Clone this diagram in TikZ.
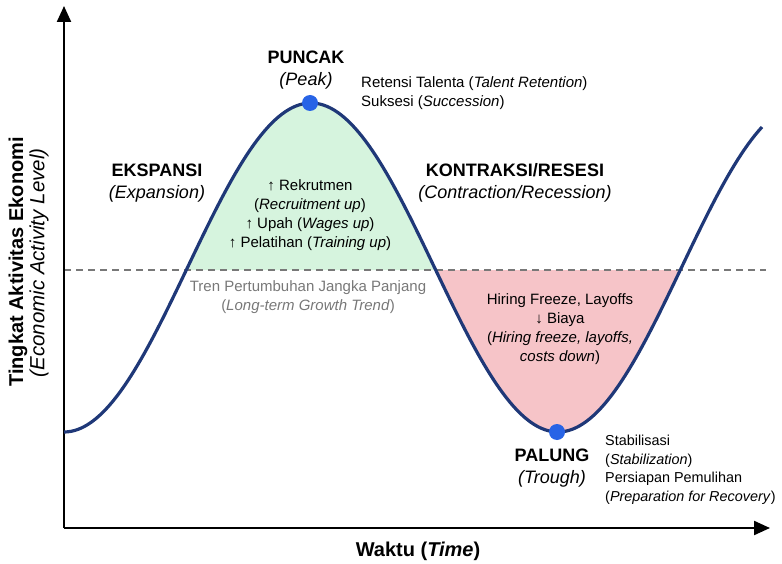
\documentclass[tikz,border=0pt]{standalone}
\usepackage{fontspec}
\setmainfont{Liberation Sans}
\usepackage{xcolor}
\usetikzlibrary{arrows.meta}

\definecolor{navy}{RGB}{31,56,120}
\definecolor{dotblue}{RGB}{40,100,230}
\definecolor{upgreen}{RGB}{214,244,222}
\definecolor{downred}{RGB}{246,196,200}
\definecolor{trendgray}{RGB}{120,120,120}

\begin{document}
\begin{tikzpicture}[x=1pt,y=-1pt,
  axis line/.style={line width=2.2pt,-{Triangle[length=16pt,width=14pt]}},
  cycle line/.style={navy,line width=3.2pt,line join=round},
  turn dot/.style={circle,fill=dotblue,inner sep=0pt,minimum size=16pt},
  phase label/.style={font=\fontsize{18}{22}\selectfont,align=center,inner sep=0pt},
  note label/.style={font=\fontsize{15}{19}\selectfont,align=center,inner sep=0pt},
  axis label/.style={font=\fontsize{20}{23}\selectfont,inner sep=0pt,rotate=90}]
  \useasboundingbox (0,0) rectangle (782,564);

  % shaded phases
  \fill[upgreen] plot[domain=186.3:435.7,samples=80] (\x,{267.5+164.5*cos((\x-64)*0.728745)}) -- cycle;
  \fill[downred] plot[domain=435.7:680.3,samples=80] (\x,{267.5+164.5*cos((\x-64)*0.728745)}) -- cycle;

  % axes and trend
  \coordinate (o) at (64,528);
  \coordinate (ytip) at (64,6);
  \coordinate (xtip) at (770,528);
  \coordinate (trendL) at (64,270);
  \coordinate (trendR) at (766,270);
  \draw[trendgray,line width=1.3pt,dash pattern=on 7pt off 5pt] (trendL) -- (trendR);
  \draw[axis line] (o) -- (ytip);
  \draw[axis line] (o) -- (xtip);

  % business cycle
  \draw[cycle line] plot[domain=64:762,samples=200] (\x,{267.5+164.5*cos((\x-64)*0.728745)});
  \node[turn dot] (peak) at (310,103) {};
  \node[turn dot] (trough) at (557,432) {};

  \node[axis label] (ylab) at (18,262) {\bfseries Tingkat Aktivitas Ekonomi};
  \node[axis label,font=\fontsize{20.5}{23}\selectfont] (ylab2) at (39,263) {\itshape (Economic Activity Level)};
  \node[inner sep=0pt,font=\fontsize{20}{24}\selectfont\bfseries] (xlab) at (418,551) {Waktu (\textit{Time})};

  \node[phase label] (puncak) at (306,70) {\bfseries PUNCAK\\\itshape (Peak)};
  \node[phase label] (ekspansi) at (157,183) {\bfseries EKSPANSI\\\itshape (Expansion)};
  \node[phase label] (kontraksi) at (515,183) {\bfseries KONTRAKSI/RESESI\\\itshape (Contraction/Recession)};
  \node[phase label] (palung) at (552,468) {\bfseries PALUNG\\\itshape (Trough)};

  \node[note label,align=left,anchor=west] (peaknote) at (361,93.5)
    {Retensi Talenta (\textit{Talent Retention})\\Suksesi (\textit{Succession})};
  \node[note label] (upnote) at (310,215)
    {↑ Rekrutmen\\(\textit{Recruitment up})\\↑ Upah (\textit{Wages up})\\↑ Pelatihan (\textit{Training up})};
  \node[note label,text=trendgray] (trend) at (308,297)
    {Tren Pertumbuhan Jangka Panjang\\(\textit{Long-term Growth Trend})};
  \node[note label] (downnote) at (560,329)
    {Hiring Freeze, Layoffs\\↓ Biaya\\(\textit{Hiring freeze, layoffs,}\\\textit{costs down})};
  \node[note label,align=left,anchor=west,font=\fontsize{14.4}{18.5}\selectfont] (troughnote) at (605,470)
    {Stabilisasi\\(\textit{Stabilization})\\Persiapan Pemulihan\\(\textit{Preparation for Recovery})};
\end{tikzpicture}
\end{document}
